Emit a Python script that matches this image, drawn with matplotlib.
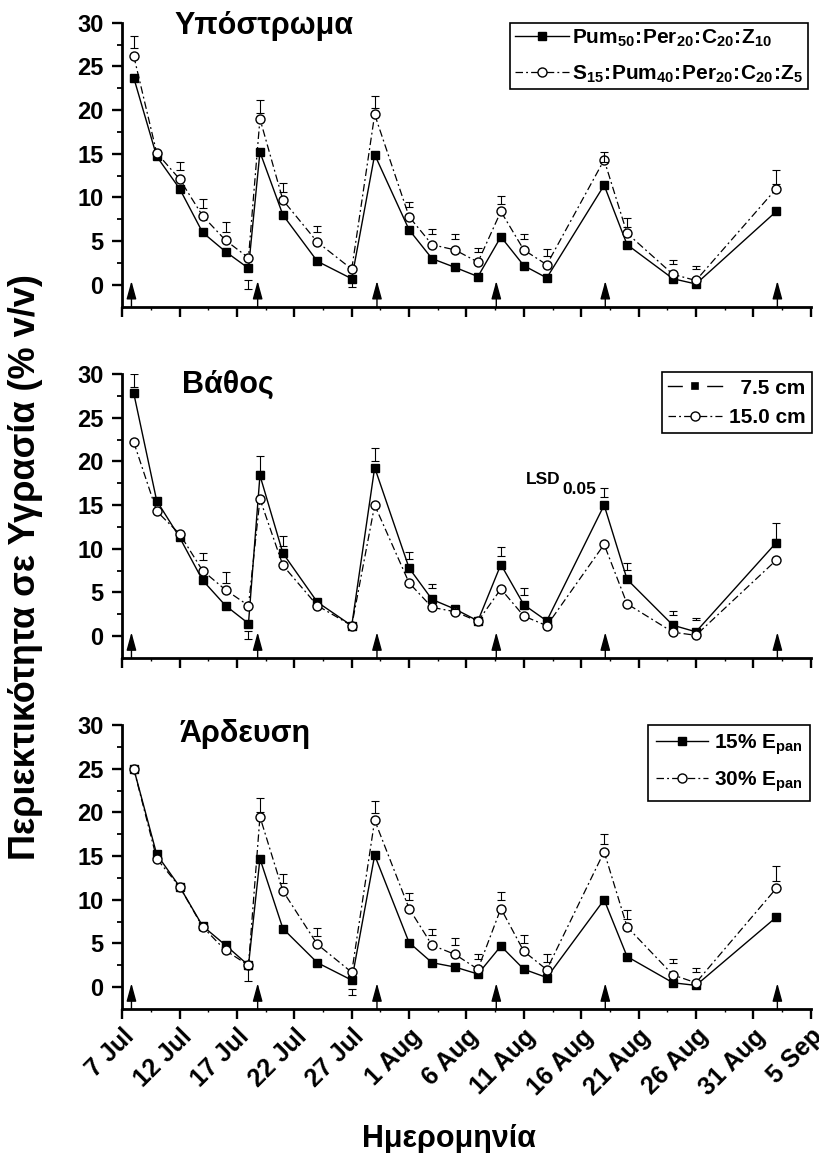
import numpy as np
import matplotlib
matplotlib.use("Agg")
import matplotlib.pyplot as plt
from matplotlib.lines import Line2D
from matplotlib.ticker import FixedLocator

plt.rcParams['font.family'] = ['Liberation Sans', 'DejaVu Sans']
plt.rcParams['font.weight'] = 'bold'
plt.rcParams['mathtext.fontset'] = 'custom'
plt.rcParams['mathtext.rm'] = 'Liberation Sans:bold'
plt.rcParams['mathtext.bf'] = 'Liberation Sans:bold'
plt.rcParams['mathtext.it'] = 'Liberation Sans:bold'
plt.rcParams['mathtext.default'] = 'rm'

nan = np.nan

# Sampling dates, as days after 7 July
days = [1, 3, 5, 7, 9, 11, 12, 14, 17, 20, 22, 25, 27, 29, 31, 33, 35, 37, 42, 44, 48, 50, 57]
tick_days = list(range(0, 61, 5))
tick_labels = ['7 Jul', '12 Jul', '17 Jul', '22 Jul', '27 Jul', '1 Aug', '6 Aug',
               '11 Aug', '16 Aug', '21 Aug', '26 Aug', '31 Aug', '5 Sep']
# Irrigation events (arrows)
irrigation_days = [0.8, 11.8, 22.2, 32.6, 42.1, 57.1]

# Substrate
substrate_a = [23.7, 14.7, 11.0, 6.0, 3.8, 1.9, 15.2, 8.0, 2.7, 0.7, 14.9, 6.3, 3.0, 2.0,
               0.95, 5.5, 2.2, 0.8, 11.4, 4.6, 0.7, 0.1, 8.4]
substrate_b = [26.2, 15.1, 12.1, 7.9, 5.1, 3.1, 19.0, 9.7, 4.9, 1.8, 19.5, 7.8, 4.6, 4.0,
               2.6, 8.4, 4.0, 2.3, 14.3, 5.9, 1.2, 0.5, 11.0]
substrate_lsd_lo = [27.1, nan, 13.1, 8.8, 6.05, -0.42, 19.66, 10.65, 6.08, -0.19, 20.2, 8.9,
                    5.86, 5.28, 3.8, 9.3, 5.2, 3.3, 14.1, 6.65, 2.4, 1.86, 11.5]
substrate_lsd_hi = [28.5, nan, 14.07, 9.85, 7.2, 0.57, 21.2, 11.6, 6.73, 0.34, 21.56, 9.5,
                    6.4, 5.86, 4.26, 10.15, 5.78, 4.14, 15.2, 7.6, 2.8, 2.17, 13.2]

# Depth
depth_a = [27.8, 15.5, 11.3, 6.4, 3.5, 1.45, 18.4, 9.5, 3.9, 1.2, 19.3, 7.8, 4.2, 3.1,
           1.75, 8.2, 3.6, 1.75, 15.0, 6.5, 1.25, 0.5, 10.7]
depth_b = [22.2, 14.3, 11.7, 7.5, 5.3, 3.5, 15.7, 8.1, 3.5, 1.2, 15.0, 6.1, 3.3, 2.8,
           1.7, 5.4, 2.3, 1.2, 10.5, 3.7, 0.45, 0.1, 8.7]
depth_lsd_lo = [28.55, nan, nan, 8.68, 6.13, -0.38, 18.96, 10.28, nan, nan, 20.1, 8.87,
                5.52, 3.15, nan, 9.14, 4.68, nan, 15.9, 7.61, 2.47, 1.83, 11.15]
depth_lsd_hi = [30.0, nan, nan, 9.55, 7.35, 0.57, 20.6, 11.46, nan, nan, 21.5, 9.63,
                6.0, 3.5, nan, 10.2, 5.52, nan, 16.94, 8.41, 2.85, 2.13, 12.94]

# Irrigation
irrig_a = [25.0, 15.2, 11.5, 7.0, 4.8, 2.5, 14.7, 6.7, 2.8, 0.8, 15.1, 5.1, 2.8, 2.3,
           1.5, 4.7, 2.05, 1.1, 10.0, 3.5, 0.5, 0.2, 8.0]
irrig_b = [25.0, 14.7, 11.5, 6.9, 4.2, 2.5, 19.5, 11.0, 4.9, 1.7, 19.1, 9.0, 4.8, 3.75,
           2.05, 9.0, 4.1, 2.0, 15.5, 6.9, 1.4, 0.5, 11.3]
irrig_lsd_lo = [nan, nan, nan, nan, nan, 0.76, 20.08, 11.93, 5.87, -0.9, 19.96, 10.0,
                5.95, 4.8, 3.18, 9.92, 5.0, 2.92, 16.36, 7.84, 2.73, 1.78, 12.12]
irrig_lsd_hi = [nan, nan, nan, nan, nan, 2.05, 21.67, 12.95, 6.78, -0.2, 21.3, 10.8,
                6.7, 5.57, 3.75, 10.87, 5.95, 3.75, 17.5, 8.79, 3.18, 2.16, 13.9]

panel_titles = ['Υπόστρωμα', 'Βάθος', 'Άρδευση']
legend_labels = [
    [r'$\mathrm{Pum_{50}\!:\!Per_{20}\!:\!C_{20}\!:\!Z_{10}}$',
     r'$\mathrm{S_{15}\!:\!Pum_{40}\!:\!Per_{20}\!:\!C_{20}\!:\!Z_{5}}$'],
    ['  7.5 cm', '15.0 cm'],
    [r'15% $\mathrm{E_{pan}}$', r'30% $\mathrm{E_{pan}}$'],
]

panels = [
    (substrate_a, substrate_b, substrate_lsd_lo, substrate_lsd_hi),
    (depth_a, depth_b, depth_lsd_lo, depth_lsd_hi),
    (irrig_a, irrig_b, irrig_lsd_lo, irrig_lsd_hi),
]

fig = plt.figure(figsize=(8.19, 11.53), dpi=100)

left, width, height = 0.1493, 0.8405, 0.2463
bottoms = [0.7340, 0.4293, 0.1249]
title_pos = [(0.0763, 0.959), (0.0863, 0.935), (0.0838, 0.941)]
legend_anchor = [(0.996, 1.0), (1.0013, 1.006), (0.999, 1.0)]
legend_style = [
    dict(handlelength=2.6, handletextpad=0.15, borderpad=0.22, labelspacing=0.72),
    dict(handlelength=2.6, handletextpad=0.3, borderpad=0.3, labelspacing=0.5),
    dict(handlelength=2.5, handletextpad=0.3, borderpad=0.35, labelspacing=0.6),
]

dashdot = (0, (6, 2.5, 1.5, 2.5))

for i, (ya, yb, lo, hi) in enumerate(panels):
    ax = fig.add_axes([left, bottoms[i], width, height])
    ax.plot(days, ya, color='black', lw=1.0, ls='-', marker='s', ms=5.8,
            mfc='black', mec='black', zorder=3)
    ax.plot(days, yb, color='black', lw=0.9, ls=dashdot, marker='o', ms=6.5,
            mfc='white', mec='black', mew=1.0, zorder=4)

    lo_a = np.array(lo, dtype=float)
    hi_a = np.array(hi, dtype=float)
    ok = ~np.isnan(lo_a)
    d_a = np.array(days, dtype=float)
    ax.errorbar(d_a[ok], (lo_a[ok] + hi_a[ok]) / 2, yerr=(hi_a[ok] - lo_a[ok]) / 2,
                fmt='none', ecolor='black', elinewidth=0.8, capsize=2.6,
                capthick=0.8, zorder=5)

    for d in irrigation_days:
        ax.annotate('', xy=(d, 0.45), xytext=(d, -2.5),
                    arrowprops=dict(arrowstyle='-|>,head_length=1.1,head_width=0.3',
                                    lw=1.0, color='black', shrinkA=0, shrinkB=0,
                                    mutation_scale=10),
                    annotation_clip=False, zorder=2)

    ax.set_xlim(0, 60)
    ax.set_ylim(-2.5, 30)
    for s in ('top', 'right'):
        ax.spines[s].set_visible(False)
    for s in ('left', 'bottom'):
        ax.spines[s].set_linewidth(2.0)

    ax.xaxis.set_major_locator(FixedLocator(tick_days))
    ax.xaxis.set_minor_locator(FixedLocator([d + 2.5 for d in tick_days[:-1]]))
    ax.yaxis.set_major_locator(FixedLocator([0, 5, 10, 15, 20, 25, 30]))
    ax.yaxis.set_minor_locator(FixedLocator([2.5, 7.5, 12.5, 17.5, 22.5, 27.5]))
    ax.tick_params(axis='both', which='major', direction='out', length=7, width=1.7)
    ax.tick_params(axis='y', which='major', labelsize=17, pad=6.5)
    ax.tick_params(axis='x', which='major', labelsize=18, pad=4)
    ax.tick_params(axis='y', which='minor', direction='out', length=3.5, width=1.3)
    ax.tick_params(axis='x', which='minor', direction='out', length=2.5, width=1.0)
    ax.set_yticklabels(['0', '5', '10', '15', '20', '25', '30'], fontweight='bold')
    if i < 2:
        ax.set_xticklabels([])
    else:
        ax.set_xticklabels(tick_labels, rotation=45, ha='right', va='top',
                           rotation_mode='anchor', fontweight='bold')

    tx, ty = title_pos[i]
    ax.text(tx, ty, panel_titles[i], transform=ax.transAxes, fontsize=22,
            fontweight='bold', va='baseline', ha='left')

    if i == 1:
        h1 = Line2D([], [], color='black', lw=1.0, ls='-', marker='s', ms=11,
                    mfc='black', mec='white', mew=6)
    else:
        h1 = Line2D([], [], color='black', lw=1.0, ls='-', marker='s', ms=5.8,
                    mfc='black', mec='black')
    h2 = Line2D([], [], color='black', lw=0.9, ls=dashdot, marker='o', ms=6.5,
                mfc='white', mec='black', mew=1.0)
    leg = ax.legend([h1, h2], legend_labels[i], loc='upper right',
                    bbox_to_anchor=legend_anchor[i], borderaxespad=0,
                    frameon=True, fancybox=False, edgecolor='black', framealpha=1,
                    fontsize=15, **legend_style[i])
    leg.get_frame().set_linewidth(1.2)

    if i == 1:
        ax.text(35.2, 17.45, 'LSD', fontsize=12.5, fontweight='bold', ha='left',
                va='baseline')
        ax.text(38.35, 16.3, '0.05', fontsize=12.5, fontweight='bold', ha='left',
                va='baseline')

fig.text(0.031, 0.508, 'Περιεκτικότητα σε Υγρασία (% v/v)', rotation=90,
         fontsize=26, fontweight='bold', ha='center', va='center')
fig.text(0.548, 1 - 1147 / 1153, 'Ημερομηνία', fontsize=22, fontweight='bold',
         ha='center', va='baseline')

fig.savefig('out.png', dpi=100)
